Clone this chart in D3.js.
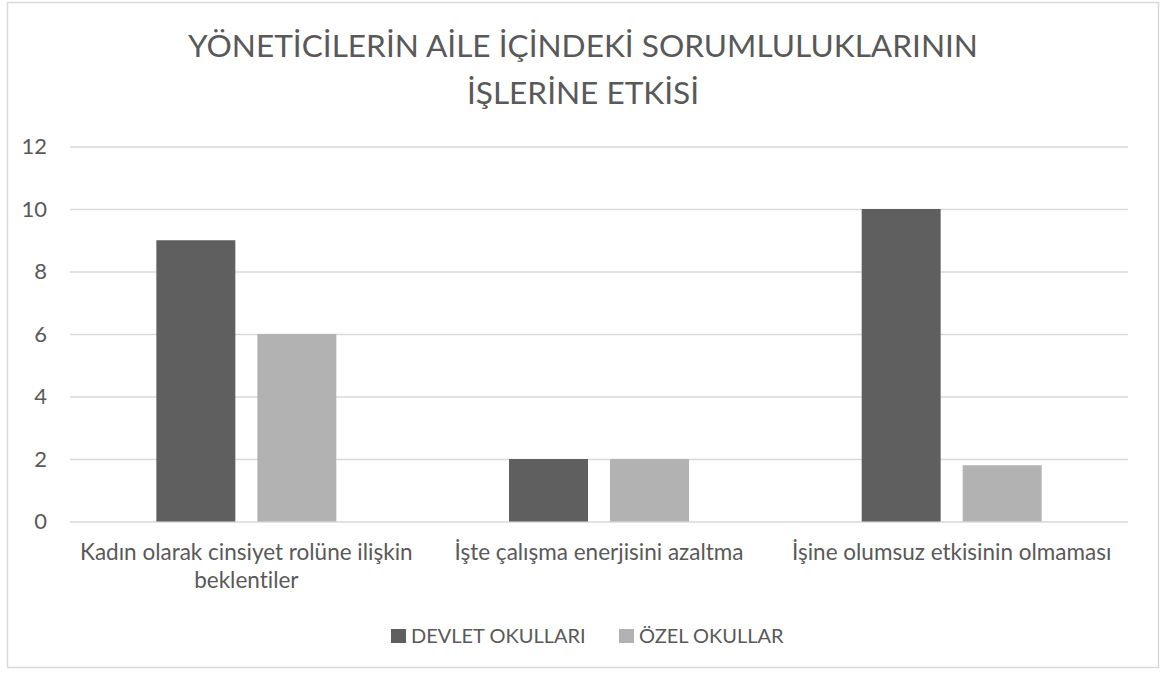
<!DOCTYPE html>
<html>
<head>
  <meta charset="utf-8">
  <title>Yöneticilerin aile içindeki sorumlulukları</title>
  <script src="https://d3js.org/d3.v7.min.js"></script>
  <style>
    body { margin: 0; background: #fff; }
    text { font-family: Lato, "Open Sans", sans-serif; fill: #595959; font-variant-ligatures: none; }
  </style>
</head>
<body>
  <div id="container"></div>
  <script>
  // data
  var categories = [
    ["Kadın olarak cinsiyet rolüne ilişkin", "beklentiler"],
    ["İşte çalışma enerjisini azaltma"],
    ["İşine olumsuz etkisinin olmaması"]
  ];
  var seriesNames = ["DEVLET OKULLARI", "ÖZEL OKULLAR"];
  var devlet = [9, 2, 10];
  var ozel = [6, 2, 1.8];
  var yTicks = [0, 2, 4, 6, 8, 10, 12];
  var titleLines = ["YÖNETİCİLERİN AİLE İÇİNDEKİ SORUMLULUKLARININ", "İŞLERİNE ETKİSİ"];

  const width = 1166,
    height = 677;
  var plot = { left: 70, right: 1128, top: 146.5, bottom: 521.5 };
  var colors = ["#5f5f5f", "#b2b2b2"];

  var svg = d3.select("#container")
    .append("svg")
    .attr("width", width)
    .attr("height", height);

  // chart frame
  svg.append("rect")
    .attr("x", 7.5)
    .attr("y", 2.5)
    .attr("width", 1151)
    .attr("height", 665)
    .attr("fill", "#fff")
    .attr("stroke", "#d9d9d9")
    .attr("stroke-width", 1.5);

  svg.append("g")
    .selectAll("text")
    .data(titleLines)
    .enter()
    .append("text")
    .attr("x", 583)
    .attr("y", function(d, i) { return 57 + i * 47; })
    .attr("text-anchor", "middle")
    .attr("font-size", "31.6px")
    .text(function(d) { return d; });

  var x0 = d3.scaleBand()
    .domain(d3.range(categories.length))
    .range([plot.left, plot.right]);

  var x1 = d3.scaleBand()
    .domain(seriesNames)
    .range([0, x0.bandwidth()])
    .paddingInner(0.218)
    .paddingOuter(0.855);

  var y = d3.scaleLinear()
    .domain([0, 12])
    .range([plot.bottom, plot.top]);

  // gridlines + tick labels
  var yAxis = svg.append("g")
    .attr("transform", "translate(" + plot.left + ",0)")
    .call(d3.axisLeft(y).tickValues(yTicks).tickSize(-(plot.right - plot.left)).tickPadding(23).tickFormat(d3.format("d")));
  yAxis.select(".domain").remove();
  yAxis.selectAll("line").attr("stroke", "#d9d9d9").attr("stroke-width", 1.5);
  yAxis.selectAll("text")
    .attr("font-size", "22px")
    .style("font-family", "Lato, sans-serif")
    .attr("fill", "#595959");

  var rows = categories.map(function(c, i) {
    return { i: i, values: [devlet[i], ozel[i]] };
  });

  var groups = svg.append("g")
    .selectAll("g")
    .data(rows)
    .enter()
    .append("g")
    .attr("transform", function(d) { return "translate(" + x0(d.i) + ",0)"; });

  groups.selectAll("rect")
    .data(function(d) { return d.values.map(function(v, k) { return { k: k, v: v }; }); })
    .enter()
    .append("rect")
    .attr("x", function(d) { return x1(seriesNames[d.k]); })
    .attr("width", x1.bandwidth())
    .attr("y", function(d) { return y(d.v); })
    .attr("height", function(d) { return y(0) - y(d.v); })
    .attr("fill", function(d) { return colors[d.k]; });

  // category labels
  svg.append("g")
    .selectAll("text")
    .data(categories)
    .enter()
    .append("text")
    .attr("text-anchor", "middle")
    .attr("font-size", "22.5px")
    .attr("transform", function(d, i) { return "translate(" + (x0(i) + x0.bandwidth() / 2) + ",560)"; })
    .selectAll("tspan")
    .data(function(d) { return d; })
    .enter()
    .append("tspan")
    .attr("x", 0)
    .attr("y", function(d, i) { return i * 28; })
    .text(function(d) { return d; });

  // legend
  var legendX = [391, 619];
  var legend = svg.append("g")
    .selectAll("g")
    .data(seriesNames)
    .enter()
    .append("g")
    .attr("transform", function(d, i) { return "translate(" + legendX[i] + ",629)"; });
  legend.append("rect")
    .attr("width", 15)
    .attr("height", 14)
    .attr("fill", function(d, i) { return colors[i]; });
  legend.append("text")
    .attr("x", 20)
    .attr("y", 14)
    .attr("font-size", "20px")
    .text(function(d) { return d; });
  </script>
</body>
</html>
